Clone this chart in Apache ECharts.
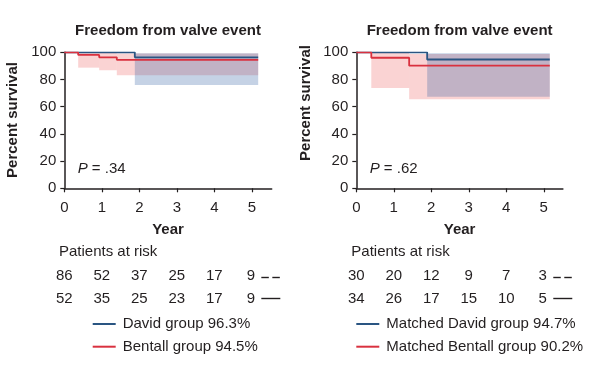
<!DOCTYPE html>
<html><head><meta charset="utf-8">
<script src="https://cdn.jsdelivr.net/npm/echarts@6/dist/echarts.min.js"></script>
<style>html,body{margin:0;padding:0;background:#fff}#c{width:606px;height:367px}</style>
</head><body><div id="c"></div>
<script>
// ---------- data ----------
const years = [0, 1, 2, 3, 4, 5];
const yTicks = [0, 20, 40, 60, 80, 100];

// Left panel: all patients
const davidTime = [0, 1.88, 5.17];
const davidSurv = [100, 96.3, 96.3];
const davidLow  = [100, 76, 76];
const davidUp   = [100, 99.3, 99.3];
const bentallTime = [0, 0.37, 0.93, 1.40, 5.17];
const bentallSurv = [100, 98.1, 96.3, 94.5, 94.5];
const bentallLow  = [100, 88.7, 86.8, 83.1, 83.1];
const bentallUp   = [100, 99.7, 99.5, 99.2, 99.2];
const riskDavid   = [86, 52, 37, 25, 17, 9];
const riskBentall = [52, 35, 25, 23, 17, 9];

// Right panel: matched patients
const mDavidTime = [0, 1.89, 5.16];
const mDavidSurv = [100, 94.7, 94.7];
const mDavidLow  = [100, 67.4, 67.4];
const mDavidUp   = [100, 99.3, 99.3];
const mBentallTime = [0, 0.40, 1.41, 5.16];
const mBentallSurv = [100, 96.0, 90.2, 90.2];
const mBentallLow  = [100, 73.7, 65.4, 65.4];
const mBentallUp   = [100, 99.6, 98.8, 98.8];
const mRiskDavid   = [30, 20, 12, 9, 7, 3];
const mRiskBentall = [34, 26, 17, 15, 10, 5];

const names = ['David group 96.3%', 'Bentall group 94.5%', 'Matched David group 94.7%', 'Matched Bentall group 90.2%'];
const titleText = 'Freedom from valve event';
const pValues = ['.34', '.62'];

// ---------- style ----------
const TXT = '#231f20';
const BLUE = '#2a5582';
const RED = '#d9313f';
const BLUE_BAND = 'rgba(40,90,160,0.27)';
const RED_BAND = 'rgba(240,110,110,0.30)';
const FONT = 'Liberation Sans, Arial, sans-serif';

const zip = (t, v) => t.map((x, i) => [x, v[i]]);

// confidence band as step rectangles: [t_i, t_{i+1}, low_i, up_i]
function band(g, times, low, up, color) {
  const segs = [];
  for (let i = 0; i < times.length - 1; i++) segs.push([times[i], times[i + 1], low[i], up[i]]);
  return { type: 'custom', xAxisIndex: g, yAxisIndex: g, silent: true, z: 1,
    encode: { x: [0, 1], y: [2, 3] }, data: segs,
    renderItem: function (params, api) {
      const p0 = api.coord([api.value(0), api.value(3)]);
      const p1 = api.coord([api.value(1), api.value(2)]);
      return { type: 'rect', shape: { x: p0[0], y: p0[1], width: p1[0] - p0[0], height: p1[1] - p0[1] },
        style: { fill: color } };
    } };
}
function curve(g, name, times, surv, color, z) {
  return { type: 'line', name: name, xAxisIndex: g, yAxisIndex: g, step: 'end', symbol: 'none',
    data: zip(times, surv), color: color, lineStyle: { color: color, width: 1.8 }, z: z };
}

const grids = [
  { left: 64.3, top: 52.3, width: 207.4, height: 136 },
  { left: 356.3, top: 52.3, width: 206.6, height: 136 }
];
const xMax = [5.53, 5.51];

function xAxis(g) {
  return { type: 'value', gridIndex: g, min: 0, max: xMax[g], interval: 1,
    axisLine: { lineStyle: { color: TXT, width: 1.5 } },
    axisTick: { show: true, length: 4, lineStyle: { color: TXT, width: 1.2 }, customValues: years },
    axisLabel: { margin: 12, fontSize: 15, color: TXT, fontFamily: FONT, customValues: years,
      formatter: v => (Number.isInteger(v) ? String(v) : '') },
    splitLine: { show: false } };
}
function yAxis(g) {
  return { type: 'value', gridIndex: g, min: 0, max: 100, interval: 20,
    axisLine: { show: true, lineStyle: { color: TXT, width: 1.5 } },
    axisTick: { show: true, length: 4, lineStyle: { color: TXT, width: 1.2 } },
    axisLabel: { margin: 8, fontSize: 15, color: TXT, fontFamily: FONT },
    splitLine: { show: false } };
}

const series = [
  band(0, bentallTime, bentallLow, bentallUp, RED_BAND),
  band(0, davidTime, davidLow, davidUp, BLUE_BAND),
  band(1, mBentallTime, mBentallLow, mBentallUp, RED_BAND),
  band(1, mDavidTime, mDavidLow, mDavidUp, BLUE_BAND),
  curve(0, names[0], davidTime, davidSurv, BLUE, 3),
  curve(0, names[1], bentallTime, bentallSurv, RED, 4),
  curve(1, names[2], mDavidTime, mDavidSurv, BLUE, 3),
  curve(1, names[3], mBentallTime, mBentallSurv, RED, 4)
];

function legend(left, data) {
  return { orient: 'vertical', left: left, top: 316.5, padding: 0, itemWidth: 23, itemHeight: 2,
    itemGap: 7.7, icon: 'rect', data: data, selectedMode: false,
    textStyle: { fontSize: 15, color: TXT, fontFamily: FONT, padding: [0, 0, 0, 2] } };
}

const chart = echarts.init(document.getElementById('c'), null, { renderer: 'canvas' });
chart.setOption({
  animation: false,
  backgroundColor: '#fff',
  grid: grids,
  xAxis: [xAxis(0), xAxis(1)],
  yAxis: [yAxis(0), yAxis(1)],
  legend: [legend(92.7, [names[0], names[1]]), legend(356.3, [names[2], names[3]])],
  series: series
});

// ---------- text decorations ----------
const g = [];
function txt(x, y, text, opt) {
  g.push(Object.assign({ type: 'text', x: x, y: y, silent: true,
    style: Object.assign({ text: text, fill: TXT, font: '15px ' + FONT, align: 'left', verticalAlign: 'middle' }, opt && opt.style || {}) },
    opt && opt.el || {}));
}
[0, 1].forEach(gi => {
  const gr = grids[gi];
  const cx = gr.left + gr.width / 2;
  txt(cx, 31, titleText, { style: { font: 'bold 15px ' + FONT, align: 'center' } });
  txt(cx, 230, 'Year', { style: { font: 'bold 15px ' + FONT, align: 'center' } });
});
txt(13, 120, 'Percent survival', { style: { font: 'bold 15px ' + FONT, align: 'center' }, el: { rotation: Math.PI / 2 } });
txt(306, 103, 'Percent survival', { style: { font: 'bold 15px ' + FONT, align: 'center' }, el: { rotation: Math.PI / 2 } });

// P values
[[77.7, pValues[0]], [369.7, pValues[1]]].forEach(([x, p]) => {
  g.push({ type: 'text', x: x, y: 169, silent: true,
    style: { text: '{i|P} = ' + p, fill: TXT, font: '15px ' + FONT, verticalAlign: 'middle',
      rich: { i: { fontStyle: 'italic', fontSize: 15, fontFamily: FONT, fill: TXT } } } });
});

// Risk tables
const tables = [[riskDavid, riskBentall, 59], [mRiskDavid, mRiskBentall, 351.3]];
tables.forEach(([r1, r2, lx], gi) => {
  txt(lx, 252.3, 'Patients at risk');
  years.forEach((yr, i) => {
    const px = chart.convertToPixel({ gridIndex: gi }, [yr, 0])[0];
    txt(px - (i === 5 ? 1 : 0), 276, String(r1[i]), { style: { align: 'center' } });
    txt(px - (i === 5 ? 1 : 0), 299, String(r2[i]), { style: { align: 'center' } });
  });
  const x5 = chart.convertToPixel({ gridIndex: gi }, [5, 0])[0];
  const d0 = x5 + 9.5;
  const ls = { stroke: TXT, lineWidth: 1.4 };
  g.push({ type: 'line', silent: true, shape: { x1: d0, y1: 277.5, x2: d0 + 7.5, y2: 277.5 }, style: ls });
  g.push({ type: 'line', silent: true, shape: { x1: d0 + 11, y1: 277.5, x2: d0 + 18.5, y2: 277.5 }, style: ls });
  g.push({ type: 'line', silent: true, shape: { x1: d0, y1: 298.5, x2: d0 + 19, y2: 298.5 }, style: ls });
});

chart.setOption({ graphic: g });
</script>
</body></html>
